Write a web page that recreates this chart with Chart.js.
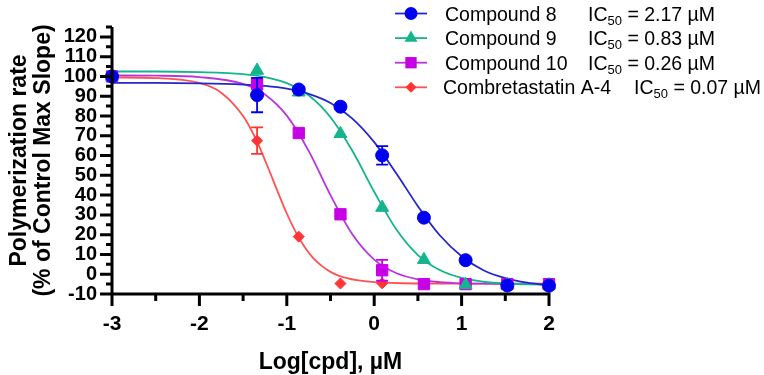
<!DOCTYPE html>
<html>
<head>
<meta charset="utf-8">
<script src="https://cdn.jsdelivr.net/npm/chart.js@4.4.1/dist/chart.umd.min.js"></script>
<style>
  body { margin: 0; background: #fff; }
  #chart { display: block; }
</style>
</head>
<body>
<canvas id="chart" width="764" height="375"></canvas>
<script>
// measured doses, log10 of concentration in uM (control sits at -3)
const logDose = [-3, -1.34, -0.863, -0.386, 0.091, 0.569, 1.046, 1.523, 2];

// measured rates (% of control max slope) and their error bars
const cmpd8 = [100, 90.6, 93.4, 84.7, 60.1, 28.6, 7.1, -5.7, -5.8];
const cmpd8Err = [0, 8.7, 0, 0, 4.7, 0, 0, 0, 0];
const cmpd9 = [100, 103, 92, 71, 33.7, 7.3, -5.3, -5.3, -5.5];
const cmpd9Err = [0, 0, 0, 0, 0, 0, 0, 0, 0];
const cmpd10 = [100, 96, 71.4, 30.3, 2, -5, -5, -5, -5];
const cmpd10Err = [0, 0, 0, 0, 5.3, 0, 0, 0, 0];
const ca4 = [100, 67.5, 19, -4.7, -4.6, -5, -5, -5, -5];
const ca4Err = [0, 6.7, 0, 0, 0, 0, 0, 0, 0];

// fitted curves
const fitX = [-3, -2.5, -2, -1.5, -1.25, -1, -0.75, -0.5, -0.25, 0, 0.25, 0.5, 0.75, 1, 1.25, 1.5, 1.75, 2];
const cmpd8Fit = [96.7, 96.7, 96.5, 95.9, 95.2, 93.8, 91.2, 86.6, 78.7, 66.8, 51.2, 34.4, 19.7, 9.1, 2.0, -2.0, -4.3, -5.6];
const cmpd9Fit = [102.5, 102.5, 102.2, 101.2, 99.7, 96.6, 90.5, 79.4, 62.4, 41.7, 22.9, 9.7, 2.1, -1.9, -3.8, -4.7, -5.1, -5.3];
const cmpd10Fit = [100.5, 100.4, 99.7, 96.2, 90.9, 80.2, 62.4, 40.0, 20.2, 7.4, 0.6, -2.6, -4.0, -4.6, -4.8, -4.9, -5.0, -5.0];
const ca4FitX = [-3, -2.5, -2, -1.75, -1.5, -1.4, -1.3, -1.2, -1.1, -1, -0.9, -0.8, -0.7, -0.6, -0.5, -0.4, -0.2, 0, 0.5, 1, 1.5, 2];
const ca4Fit = [99.5, 99.2, 96.7, 91.8, 80.0, 72.4, 63.0, 52.3, 41.3, 30.7, 21.5, 14.0, 8.3, 4.2, 1.2, -0.8, -3.0, -4.0, -4.7, -4.8, -4.8, -4.8];

const seriesNames = ['Compound 8', 'Compound 9', 'Compound 10', 'Combretastatin A-4'];
const ic50 = ['2.17', '0.83', '0.26', '0.07'];

const xTicks = [-3, -2, -1, 0, 1, 2];
const xMinorTicks = [-2.5, -1.5, -0.5, 0.5, 1.5];
const yTicks = [-10, 0, 10, 20, 30, 40, 50, 60, 70, 80, 90, 100, 110, 120];
const yMinorTicks = [-5, 5, 15, 25, 35, 45, 55, 65, 75, 85, 95, 105, 115, 125];

const pointColors = ['#0000f0', '#14b48c', '#c800e6', '#ff3434'];
const lineColors = ['#2626cc', '#14b48c', '#b936de', '#ff5252'];
const pointStyles = ['circle', 'triangle', 'rect', 'rectRot'];
const pointSizes = [6.5, 7.5, 8, 5.5];

const pointSets = [cmpd8, cmpd9, cmpd10, ca4];
const errSets = [cmpd8Err, cmpd9Err, cmpd10Err, ca4Err];
const fitSets = [[fitX, cmpd8Fit], [fitX, cmpd9Fit], [fitX, cmpd10Fit], [ca4FitX, ca4Fit]];

const toXY = (xs, ys) => xs.map((x, i) => ({ x: x, y: ys[i] }));

const datasets = [];
pointSets.forEach((vals, i) => {
  datasets.push({
    label: seriesNames[i],
    data: toXY(logDose, vals),
    showLine: false,
    pointStyle: pointStyles[i],
    pointRadius: pointSizes[i],
    pointBackgroundColor: pointColors[i],
    pointBorderColor: pointColors[i],
    pointBorderWidth: 1,
    clip: false,
    errors: errSets[i]
  });
});
fitSets.forEach((f, i) => {
  datasets.push({
    label: seriesNames[i] + ' fit',
    data: toXY(f[0], f[1]),
    showLine: true,
    borderColor: lineColors[i],
    borderWidth: 1.8,
    pointRadius: 0,
    cubicInterpolationMode: 'monotone',
    clip: false
  });
});

// error bars, drawn just under each marker set
const errorBars = {
  id: 'errorBars',
  beforeDatasetDraw(chart, args) {
    const ds = chart.data.datasets[args.index];
    if (!ds.errors) return;
    const xs = chart.scales.x, ys = chart.scales.y, ctx = chart.ctx;
    ctx.save();
    ctx.strokeStyle = pointColors[args.index];
    ctx.lineWidth = 1.8;
    ds.data.forEach((p, j) => {
      const e = ds.errors[j];
      if (!e) return;
      const px = xs.getPixelForValue(p.x);
      const top = ys.getPixelForValue(p.y + e);
      const bot = ys.getPixelForValue(p.y - e);
      ctx.beginPath();
      ctx.moveTo(px, top); ctx.lineTo(px, bot);
      ctx.moveTo(px - 6, top); ctx.lineTo(px + 6, top);
      ctx.moveTo(px - 6, bot); ctx.lineTo(px + 6, bot);
      ctx.stroke();
    });
    ctx.restore();
  }
};

// axis lines, major/minor ticks and axis titles
const axesDecor = {
  id: 'axesDecor',
  afterDraw(chart) {
    const ctx = chart.ctx, xs = chart.scales.x, ys = chart.scales.y;
    const a = chart.chartArea;
    ctx.save();
    ctx.strokeStyle = '#000';
    ctx.lineWidth = 3;
    ctx.beginPath();
    ctx.moveTo(a.left, a.top);
    ctx.lineTo(a.left, a.bottom + 1.5);
    ctx.moveTo(a.left - 1.5, a.bottom);
    ctx.lineTo(a.right + 1.5, a.bottom);
    yTicks.forEach(v => { const y = ys.getPixelForValue(v); ctx.moveTo(a.left - 12, y); ctx.lineTo(a.left, y); });
    yMinorTicks.forEach(v => { const y = ys.getPixelForValue(v); ctx.moveTo(a.left - 6, y); ctx.lineTo(a.left, y); });
    xTicks.forEach(v => { const x = xs.getPixelForValue(v); ctx.moveTo(x, a.bottom); ctx.lineTo(x, a.bottom + 12); });
    xMinorTicks.forEach(v => { const x = xs.getPixelForValue(v); ctx.moveTo(x, a.bottom); ctx.lineTo(x, a.bottom + 7); });
    ctx.stroke();

    ctx.fillStyle = '#000';
    ctx.font = 'bold 23px "Liberation Sans", Arial, sans-serif';
    ctx.textAlign = 'center';
    ctx.textBaseline = 'alphabetic';
    ctx.fillText('Log[cpd], \u00b5M', (a.left + a.right) / 2, 369);
    ctx.translate(0, (a.top + a.bottom) / 2);
    ctx.rotate(-Math.PI / 2);
    ctx.fillText('Polymerization rate', 0, 26);
    ctx.fillText('(% of Control Max Slope)', 0, 50);
    ctx.restore();
  }
};

function drawMarker(ctx, style, x, y, r) {
  ctx.beginPath();
  if (style === 'circle') {
    ctx.arc(x, y, r, 0, Math.PI * 2);
  } else if (style === 'triangle') {
    ctx.moveTo(x, y - r);
    ctx.lineTo(x + r * 0.866, y + r * 0.5);
    ctx.lineTo(x - r * 0.866, y + r * 0.5);
    ctx.closePath();
  } else if (style === 'rect') {
    const s = r * Math.SQRT1_2;
    ctx.rect(x - s, y - s, 2 * s, 2 * s);
  } else {
    ctx.moveTo(x, y - r); ctx.lineTo(x + r, y); ctx.lineTo(x, y + r); ctx.lineTo(x - r, y);
    ctx.closePath();
  }
  ctx.fill();
}

// legend with subscripted IC50
const icLegend = {
  id: 'icLegend',
  afterDraw(chart) {
    const ctx = chart.ctx;
    ctx.save();
    ctx.textBaseline = 'alphabetic';
    ctx.textAlign = 'left';
    seriesNames.forEach((name, i) => {
      const cy = 13.5 + i * 24.6;
      ctx.strokeStyle = lineColors[i];
      ctx.lineWidth = 1.8;
      ctx.beginPath();
      ctx.moveTo(395, cy); ctx.lineTo(427, cy);
      ctx.stroke();
      ctx.fillStyle = pointColors[i];
      drawMarker(ctx, pointStyles[i], 411, cy, pointSizes[i]);

      const last = i === seriesNames.length - 1;
      const base = cy + 7;
      ctx.fillStyle = '#000';
      ctx.font = '19.5px "Liberation Sans", Arial, sans-serif';
      ctx.fillText(name, last ? 443 : 445, base);
      let x = last ? 634 : 588;
      ctx.fillText('IC', x, base);
      x += ctx.measureText('IC').width;
      ctx.font = '13px "Liberation Sans", Arial, sans-serif';
      ctx.fillText('50', x, base + 4);
      x += ctx.measureText('50').width;
      ctx.font = '19.5px "Liberation Sans", Arial, sans-serif';
      ctx.fillText(' = ' + ic50[i] + ' \u00b5M', x, base);
    });
    ctx.restore();
  }
};

new Chart(document.getElementById('chart'), {
  type: 'scatter',
  data: { datasets: datasets },
  options: {
    responsive: false,
    animation: false,
    layout: { padding: { top: 3, right: 215, left: 0, bottom: 0 } },
    plugins: { legend: { display: false }, tooltip: { enabled: false } },
    scales: {
      x: {
        type: 'linear',
        min: -3,
        max: 2,
        afterFit: s => { s.height = 81; },
        afterBuildTicks: s => { s.ticks = xTicks.map(v => ({ value: v })); },
        grid: { display: false, drawTicks: false },
        border: { display: false },
        ticks: {
          autoSkip: false,
          maxRotation: 0,
          padding: 18,
          color: '#000',
          font: { family: '"Liberation Sans", Arial, sans-serif', size: 21, weight: 'bold' }
        }
      },
      y: {
        type: 'linear',
        min: -10,
        max: 125,
        afterFit: s => { s.width = 112; },
        afterBuildTicks: s => { s.ticks = yTicks.map(v => ({ value: v })); },
        grid: { display: false, drawTicks: false },
        border: { display: false },
        ticks: {
          autoSkip: false,
          padding: 15,
          color: '#000',
          font: { family: '"Liberation Sans", Arial, sans-serif', size: 20, weight: 'bold' }
        }
      }
    }
  },
  plugins: [errorBars, axesDecor, icLegend]
});
</script>
</body>
</html>
